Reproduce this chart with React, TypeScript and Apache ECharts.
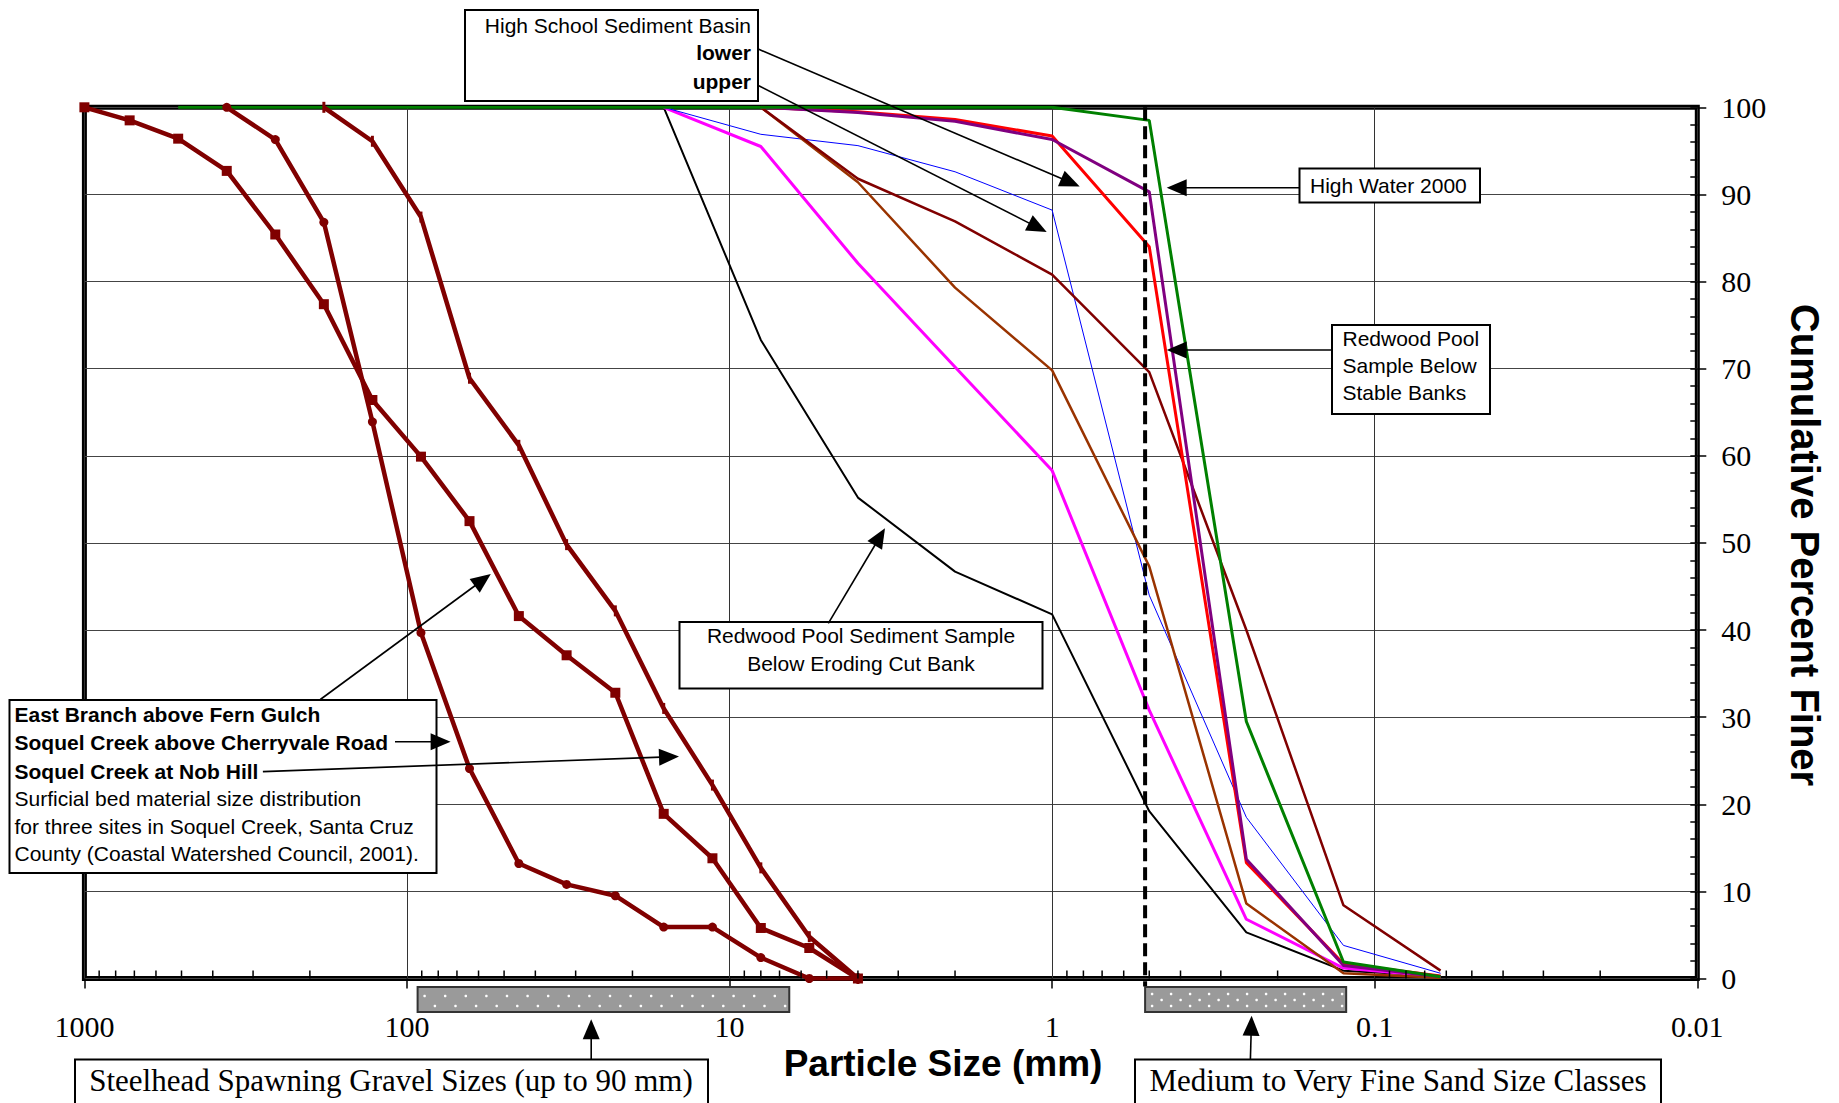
import React, { useEffect, useRef } from "react";
import * as echarts from "echarts";

const SANS = '"Liberation Sans", Arial, sans-serif';
const SERIF = '"Liberation Serif", "Times New Roman", serif';

// Axis tick labels
const xTickLabels = ["1000", "100", "10", "1", "0.1", "0.01"];

// Soquel Creek surficial bed material (particle size mm, % finer)
const soquelSizes = [1000, 724, 512, 362, 256, 181, 128, 90.5, 64, 45, 32, 22.6, 16, 11.3, 8, 5.66, 4];
const eastBranchFernGulch = [100, 98.5, 96.4, 92.7, 85.4, 77.4, 66.4, 59.9, 52.5, 41.6, 37.1, 32.8, 18.9, 13.8, 5.8, 3.5, 0];
const cherryvaleSizes = [362, 256, 181, 128, 90.5, 64, 45, 32, 22.6, 16, 11.3, 8, 5.66, 4];
const cherryvaleRoad = [100, 96.3, 86.8, 63.9, 39.7, 24.1, 13.2, 10.8, 9.5, 5.9, 5.9, 2.4, 0, 0];
const nobHillSizes = [181, 128, 90.5, 64, 45, 32, 22.6, 16, 11.3, 8, 5.66, 4];
const nobHill = [100, 96.1, 87.4, 68.9, 61.2, 49.8, 42.2, 31.0, 22.2, 12.7, 4.8, 0];

// Sand samples
const sandSizes16 = [16, 8, 4, 2, 1, 0.5, 0.25, 0.125, 0.0625];
const erodingCutBank = [100, 73.3, 55.2, 46.7, 41.8, 19.2, 5.3, 0.9, 0.3];
const magentaSample = [100, 95.5, 82.1, 70.2, 58.3, 30.8, 6.8, 1.2, 0.2];
const blueSample = [100, 96.9, 95.6, 92.6, 88.2, 44.0, 18.5, 3.8, 0.6];
const sandSizes8 = [8, 4, 2, 1, 0.5, 0.25, 0.125, 0.0625];
const brownSample = [100, 91.4, 79.3, 69.8, 47.3, 8.6, 0.6, 0.1];
const stableBanks = [100, 91.8, 86.9, 80.8, 69.6, 40.0, 8.4, 0.9];
const hsBasinLower = [100, 99.5, 98.6, 96.7, 84.0, 13.3, 1.7, 0.3];
const hsBasinUpper = [100, 99.4, 98.4, 96.3, 90.3, 13.7, 1.5, 0.2];
const highWaterSizes = [512, 16, 8, 4, 2, 1, 0.5, 0.25, 0.125, 0.0625];
const highWater2000 = [100, 100, 100, 100, 100, 100, 98.5, 29.5, 1.9, 0.2];

// Size ranges of the shaded bars (mm)
const gravelRange = [92.7, 6.53];
const sandRange = [0.515, 0.1226];
const dashedSize = 0.515;

const pairs = (xs: number[], ys: number[]) => xs.map((x, i) => [x, ys[i]]);

function lineSeries(name: string, xs: number[], ys: number[], color: string, width: number, extra: any = {}) {
  return {
    type: "line",
    name,
    data: pairs(xs, ys),
    lineStyle: { color, width },
    itemStyle: { color },
    symbol: "none",
    silent: true,
    z: 2,
    ...extra,
  };
}

function arrow(x1: number, y1: number, x2: number, y2: number, w = 1.6) {
  const dx = x2 - x1, dy = y2 - y1;
  const L = Math.hypot(dx, dy);
  const ux = dx / L, uy = dy / L;
  const hl = 20, hw = 8.5;
  const bx = x2 - ux * hl, by = y2 - uy * hl;
  return [
    { type: "line", z: 120, shape: { x1, y1, x2: bx + ux * 2, y2: by + uy * 2 }, style: { stroke: "#000", lineWidth: w } },
    {
      type: "polygon",
      z: 121,
      shape: { points: [[x2, y2], [bx - uy * hw, by + ux * hw], [bx + uy * hw, by - ux * hw]] },
      style: { fill: "#000" },
    },
  ];
}

function box(x: number, y: number, w: number, h: number) {
  return { type: "rect", z: 100, shape: { x, y, width: w, height: h }, style: { fill: "#fff", stroke: "#000", lineWidth: 2 } };
}

function txt(text: string, x: number, y: number, opts: any = {}) {
  return {
    type: "text",
    z: 110,
    x,
    y,
    rotation: opts.rotation || 0,
    style: {
      text,
      fill: "#000",
      fontSize: opts.size || 21,
      fontFamily: opts.family || SANS,
      fontWeight: opts.bold ? "bold" : "normal",
      align: opts.align || "left",
      verticalAlign: "middle",
    },
  };
}

export default function App() {
  const ref = useRef<HTMLDivElement>(null);
  useEffect(() => {
    const chart = echarts.init(ref.current!, undefined, { renderer: "svg" });
    const option: any = {
      animation: false,
      backgroundColor: "#fff",
      grid: {
        show: true,
        left: 84.4,
        top: 107.3,
        width: 1612.9,
        height: 871.2,
        borderColor: "#000",
        borderWidth: 5,
        backgroundColor: "#fff",
      },
      xAxis: {
        type: "log",
        logBase: 10,
        min: 0.01,
        max: 1000,
        inverse: true,
        position: "bottom",
        axisLine: { show: false },
        axisTick: { show: true, length: 10, lineStyle: { color: "#000", width: 1.5 } },
        axisLabel: {
          margin: 33,
          fontSize: 30,
          fontFamily: SERIF,
          color: "#000",
          showMinLabel: true,
          showMaxLabel: true,
          formatter: (v: number) => {
            const idx = 3 - Math.round(Math.log10(v));
            return xTickLabels[idx] ?? "";
          },
        },
        splitLine: { show: true, lineStyle: { color: "#333", width: 1 } },
      },
      yAxis: [
        {
          type: "value",
          position: "right",
          min: 0,
          max: 100,
          interval: 10,
          axisLine: { show: false },
          axisTick: { show: true, inside: false, length: 9, lineStyle: { color: "#000", width: 1.5 } },
          axisLabel: { margin: 24, fontSize: 30, fontFamily: SERIF, color: "#000", align: "left" },
          splitLine: { show: true, lineStyle: { color: "#444", width: 1 } },
        },
        {
          type: "value",
          position: "right",
          min: 0,
          max: 100,
          interval: 2,
          axisLine: { show: false },
          axisTick: { show: true, inside: true, length: 7, lineStyle: { color: "#000", width: 1.5 } },
          axisLabel: { show: false },
          splitLine: { show: false },
        },
      ],
      series: [
        lineSeries("Redwood Pool Sediment Sample Below Eroding Cut Bank", sandSizes16, erodingCutBank, "#000000", 2),
        lineSeries("Sample (magenta)", sandSizes16, magentaSample, "#ff00ff", 3),
        lineSeries("Sample (blue)", sandSizes16, blueSample, "#0000ff", 1),
        lineSeries("Sample (brown)", sandSizes8, brownSample, "#993300", 2.5),
        lineSeries("Redwood Pool Sample Below Stable Banks", sandSizes8, stableBanks, "#800000", 2.5),
        lineSeries("High School Sediment Basin lower", sandSizes8, hsBasinLower, "#ff0000", 3),
        lineSeries("High School Sediment Basin upper", sandSizes8, hsBasinUpper, "#800080", 3),
        lineSeries("High Water 2000", highWaterSizes, highWater2000, "#008000", 3),
        lineSeries("East Branch above Fern Gulch", soquelSizes, eastBranchFernGulch, "#800000", 4.5, {
          symbol: "rect",
          symbolSize: 10,
          showSymbol: true,
          z: 4,
        }),
        lineSeries("Soquel Creek above Cherryvale Road", cherryvaleSizes, cherryvaleRoad, "#800000", 4.5, {
          symbol: "circle",
          symbolSize: 9,
          showSymbol: true,
          z: 4,
        }),
        lineSeries("Soquel Creek at Nob Hill", nobHillSizes, nobHill, "#800000", 4.5, {
          symbol: "rect",
          symbolSize: [3, 11],
          showSymbol: true,
          z: 4,
        }),
      ],
    };
    chart.setOption(option);

    const px = (x: number, y: number) => chart.convertToPixel({ xAxisIndex: 0, yAxisIndex: 0 }, [x, y]) as number[];
    const els: any[] = [];
    const yZero = px(1, 0)[1];
    const yTop = px(1, 100)[1];

    // log minor ticks on x axis (2..9 per decade)
    [0.01, 0.1, 1, 10, 100].forEach((d) => {
      for (let k = 2; k <= 9; k++) {
        const x = px(k * d, 0)[0];
        els.push({ type: "line", z: 50, shape: { x1: x, y1: yZero, x2: x, y2: yZero - 8 }, style: { stroke: "#000", lineWidth: 1.5 } });
      }
    });

    // dashed line at boundary
    const xd = px(dashedSize, 0)[0];
    els.push({
      type: "line",
      z: 60,
      shape: { x1: xd, y1: yTop, x2: xd, y2: yZero + 8 },
      style: { stroke: "#000", lineWidth: 4, lineDash: [13, 6] },
    });

    // shaded bars
    const barY = 987, barH = 25;
    const addBar = (range: number[], rows: number[], step: number) => {
      const x0 = px(range[0], 0)[0];
      const x1 = px(range[1], 0)[0];
      els.push({ type: "rect", z: 90, shape: { x: x0, y: barY, width: x1 - x0, height: barH }, style: { fill: "#9a9a9a", stroke: "#333", lineWidth: 2 } });
      rows.forEach((ry, r) => {
        for (let x = x0 + 7 + (r % 2) * (step / 2); x < x1 - 3; x += step) {
          els.push({ type: "circle", z: 91, shape: { cx: x, cy: barY + ry, r: 1.3 }, style: { fill: "#fff" } });
        }
      });
    };
    addBar(gravelRange, [9, 19], 20.6);
    addBar(sandRange, [7, 13, 19], 19);

    // annotation boxes
    els.push(box(465, 10, 293, 91));
    els.push(txt("High School Sediment Basin", 751, 25, { align: "right" }));
    els.push(txt("lower", 751, 52.5, { align: "right", bold: true }));
    els.push(txt("upper", 751, 81, { align: "right", bold: true }));

    els.push(box(1299.5, 168.5, 180.5, 34));
    els.push(txt("High Water 2000", 1310, 185.5));

    els.push(box(1332, 325, 158, 89));
    els.push(txt("Redwood Pool", 1342.5, 338.5));
    els.push(txt("Sample Below", 1342.5, 365.5));
    els.push(txt("Stable Banks", 1342.5, 392.5));

    els.push(box(679.5, 622, 363, 66.5));
    els.push(txt("Redwood Pool Sediment Sample", 861, 635.5, { align: "center" }));
    els.push(txt("Below Eroding Cut Bank", 861, 663.5, { align: "center" }));

    els.push(box(9.5, 700, 427, 173));
    els.push(txt("East Branch above Fern Gulch", 14.5, 714.5, { bold: true }));
    els.push(txt("Soquel Creek above Cherryvale Road", 14.5, 742.5, { bold: true }));
    els.push(txt("Soquel Creek at Nob Hill", 14.5, 771, { bold: true }));
    els.push(txt("Surficial bed material size distribution", 14.5, 798.5));
    els.push(txt("for three sites in Soquel Creek, Santa Cruz", 14.5, 826));
    els.push(txt("County (Coastal Watershed Council, 2001).", 14.5, 853.5));

    els.push(box(75, 1059.5, 633, 60));
    els.push(txt("Steelhead Spawning Gravel Sizes (up to 90 mm)", 391, 1080.5, { align: "center", family: SERIF, size: 31 }));
    els.push(box(1135, 1059.5, 526, 60));
    els.push(txt("Medium to Very Fine Sand Size Classes", 1398, 1080.5, { align: "center", family: SERIF, size: 31 }));

    // axis titles
    els.push(txt("Particle Size (mm)", 943, 1063, { align: "center", bold: true, size: 37 }));
    els.push(txt("Cumulative Percent Finer", 1805, 545, { align: "center", bold: true, size: 40, rotation: -Math.PI / 2 }));

    // arrows
    els.push(...arrow(758.8, 49.3, 1079.7, 186.4));
    els.push(...arrow(758.8, 85.7, 1046.7, 232));
    els.push(...arrow(1299, 187.7, 1166.7, 187.7));
    els.push(...arrow(1332, 350, 1166.7, 350));
    els.push(...arrow(828.3, 623.3, 885, 528.3));
    els.push(...arrow(320.3, 699.5, 490.8, 574.1));
    els.push(...arrow(395, 741.8, 450.6, 741.8));
    els.push(...arrow(262.9, 771.6, 679, 756.5));
    els.push(...arrow(591.2, 1059.5, 591.2, 1019.3));
    els.push(...arrow(1250.4, 1059.5, 1251.6, 1015.7));

    chart.setOption({ graphic: { elements: els } });
    return () => chart.dispose();
  }, []);
  return <div ref={ref} style={{ position: "fixed", left: 0, top: 0, width: 1839, height: 1103, background: "#fff" }} />;
}
